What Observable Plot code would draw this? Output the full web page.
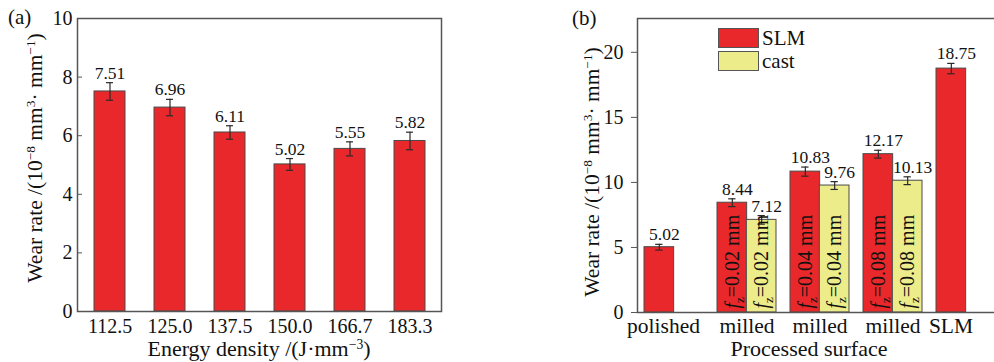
<!DOCTYPE html>
<html><head><meta charset="utf-8">
<script src="https://cdn.jsdelivr.net/npm/d3@7"></script>
<script src="https://cdn.jsdelivr.net/npm/@observablehq/plot@0.6"></script>
<style>
html,body{margin:0;padding:0;background:#fff;}
#wrap{position:relative;width:994px;height:362px;overflow:hidden;font-family:"Liberation Serif",serif;color:#111;}
.panel{position:absolute;top:0;}
.tag{position:absolute;font-size:21px;line-height:1;white-space:nowrap;}
.ytitle{position:absolute;font-size:21.5px;line-height:0.8;white-space:nowrap;transform:translate(-50%,-50%) rotate(-90deg);}
.xtitle{position:absolute;font-size:22px;line-height:0.6;white-space:nowrap;transform:translate(-50%,-50%);}
sup{font-size:0.62em;vertical-align:0.55em;line-height:0;}
.sw{position:absolute;width:39px;height:18px;border:1px solid #555;box-sizing:content-box;}
.lt{position:absolute;font-size:21px;line-height:1;white-space:nowrap;transform:translateY(-50%);}
</style></head><body><div id="wrap"></div>
<script>
// ---------- data ----------
const energy = ["112.5","125.0","137.5","150.0","166.7","183.3"];
const rateA  = [7.51, 6.96, 6.11, 5.02, 5.55, 5.82];
const errA   = [0.30, 0.28, 0.23, 0.20, 0.24, 0.30];
const yTicksA = [0, 2, 4, 6, 8, 10];

const surfaceKeys   = ["polished","milled1","milled2","milled3","SLM"];
const surfaceLabels = ["polished","milled","milled","milled","SLM"];
const feedLabels    = [null, "0.02", "0.04", "0.08", null];
const slmRate  = [5.02, 8.44, 10.83, 12.17, 18.75];
const slmErr   = [0.22, 0.30, 0.35, 0.30, 0.40];
const castRate = [null, 7.12, 9.76, 10.13, null];
const castErr  = [null, 0.33, 0.30, 0.30, null];
const seriesNames = ["SLM", "cast"];
const yTicksB = [0, 5, 10, 15, 20];

// ---------- style ----------
const RED = "#e8282a", YEL = "#ecec8a", EDGE = "#4a4a4a", FRAME = "#555", ERR = "#2a2a2a";
const FONT = "Liberation Serif, serif";
const wrap = document.getElementById("wrap");

// ---------- panel (a) ----------
const dataA = energy.map((e, i) => ({e, v: rateA[i], err: errA[i]}));
const A = {width: 460, height: 362, ml: 77, mr: 19, mt: 18, mb: 51, pi: 0.49, po: 0.245};
const stepA = (A.width - A.ml - A.mr) / (energy.length - A.pi + 2 * A.po);
const bwA = stepA * (1 - A.pi);
const capW = 7;
const plotA = Plot.plot({
  width: A.width, height: A.height,
  marginLeft: A.ml, marginRight: A.mr, marginTop: A.mt, marginBottom: A.mb,
  style: {fontFamily: FONT, fontSize: "20px", color: "#111", background: "transparent"},
  x: {domain: energy, paddingInner: A.pi, paddingOuter: A.po, label: null},
  y: {domain: [0, 10], label: null},
  marks: [
    Plot.barY(dataA, {x: "e", y: "v", fill: RED, stroke: EDGE, strokeWidth: 1}),
    Plot.ruleX(dataA, {x: "e", y1: d => d.v - d.err, y2: d => d.v + d.err, stroke: ERR, strokeWidth: 1.2}),
    Plot.tickY(dataA, {x: "e", y: d => d.v + d.err, stroke: ERR, strokeWidth: 1.2, insetLeft: (bwA - capW) / 2, insetRight: (bwA - capW) / 2}),
    Plot.tickY(dataA, {x: "e", y: d => d.v - d.err, stroke: ERR, strokeWidth: 1.2, insetLeft: (bwA - capW) / 2, insetRight: (bwA - capW) / 2}),
    Plot.text(dataA, {x: "e", y: d => d.v + d.err, text: d => d.v.toFixed(2), lineAnchor: "bottom", dy: -4, fontSize: 17.5, fill: "#111"}),
    Plot.axisY(yTicksA, {tickSize: -5, tickPadding: 10, label: null, fontSize: 20, stroke: FRAME}),
    Plot.axisX({tickSize: 0, tickPadding: 7, label: null, fontSize: 20}),
    Plot.frame({stroke: FRAME, strokeWidth: 1.5})
  ]
});
plotA.classList.add("panel");
plotA.style.left = "0px";
wrap.appendChild(plotA);

// ---------- panel (b) ----------
const B = {left: 540, width: 472, height: 362, ml: 97, mr: 10, mt: 18, mb: 50, pi: 0.197, po: 0.096};
const stepB = (B.width - B.ml - B.mr) / (surfaceKeys.length - B.pi + 2 * B.po);
const bwB = stepB * (1 - B.pi);
const half = bwB / 2;
const slmData = surfaceKeys.map((k, i) => ({k, s: seriesNames[0], v: slmRate[i], err: slmErr[i], feed: feedLabels[i]}));
const castData = surfaceKeys.map((k, i) => ({k, s: seriesNames[1], v: castRate[i], err: castErr[i], feed: feedLabels[i]})).filter(d => d.v != null);
const labelOf = k => surfaceLabels[surfaceKeys.indexOf(k)];
function seriesMarks(data, fill, side) {
  // side: -1 left half (SLM), +1 right half (cast)
  const off = side * half / 2;
  const inL = side < 0 ? 0 : half, inR = side < 0 ? half : 0;
  const capL = inL + (half - capW) / 2, capR = inR + (half - capW) / 2;
  return [
    Plot.barY(data, {x: "k", y: "v", fill, stroke: EDGE, strokeWidth: 1, insetLeft: inL, insetRight: inR}),
    Plot.ruleX(data, {x: "k", y1: d => d.v - d.err, y2: d => d.v + d.err, dx: off, stroke: ERR, strokeWidth: 1.2}),
    Plot.tickY(data, {x: "k", y: d => d.v + d.err, stroke: ERR, strokeWidth: 1.2, insetLeft: capL, insetRight: capR}),
    Plot.tickY(data, {x: "k", y: d => d.v - d.err, stroke: ERR, strokeWidth: 1.2, insetLeft: capL, insetRight: capR}),
    Plot.text(data, {x: "k", y: d => d.v + d.err, text: d => d.v.toFixed(2), dx: off + 5, lineAnchor: "bottom", dy: -4, fontSize: 17.5, fill: "#111"}),
    Plot.text(data.filter(d => d.feed), {x: "k", y: () => 0, text: "feed", dx: off, dy: -4, rotate: -90, textAnchor: "start", lineAnchor: "middle", fontSize: 20, fill: "#111", className: "fz"})
  ];
}
const plotB = Plot.plot({
  width: B.width, height: B.height,
  marginLeft: B.ml, marginRight: B.mr, marginTop: B.mt, marginBottom: B.mb,
  style: {fontFamily: FONT, fontSize: "20px", color: "#111", background: "transparent"},
  x: {domain: surfaceKeys, paddingInner: B.pi, paddingOuter: B.po, label: null},
  y: {domain: [0, 22.6], label: null},
  marks: [
    ...seriesMarks(slmData, RED, -1),
    ...seriesMarks(castData, YEL, 1),
    Plot.axisY(yTicksB, {tickSize: 6, tickPadding: 8, label: null, fontSize: 20, stroke: FRAME}),
    Plot.axisX(["milled1", "milled2", "milled3"], {tickSize: 0, tickPadding: 5, tickFormat: labelOf, label: null, fontSize: 21.5}),
    Plot.axisX(["polished"], {tickSize: 0, tickPadding: 5, tickFormat: labelOf, label: null, fontSize: 21.5, dx: -10.5}),
    Plot.axisX(["SLM"], {tickSize: 0, tickPadding: 5, tickFormat: labelOf, label: null, fontSize: 21.5, dx: -15}),
    Plot.frame({stroke: FRAME, strokeWidth: 1.5})
  ]
});
plotB.classList.add("panel");
plotB.style.left = B.left + "px";
wrap.appendChild(plotB);

// italic f with subscript z inside the rotated bar labels
plotB.querySelectorAll("g.fz text").forEach(t => {
  const v = t.textContent;
  t.innerHTML = `<tspan font-style="italic">f</tspan><tspan dy="5" font-size="13">z</tspan><tspan dy="-5">=${v} mm</tspan>`;
});

// ---------- titles, tags, legend ----------
function add(cls, html, css) {
  const d = document.createElement("div");
  d.className = cls; d.innerHTML = html; Object.assign(d.style, css); wrap.appendChild(d); return d;
}
add("tag", "(a)", {left: "8px", top: "7px"});
add("tag", "(b)", {left: "572px", top: "8px"});
const yTitle = "Wear rate /(10<sup>−8</sup> mm<sup>3</sup>· mm<sup>−1</sup>)";
add("ytitle", yTitle, {left: "36px", top: "158px"});
add("ytitle", yTitle, {left: "593px", top: "172px"});
add("xtitle", "Energy density /(J·mm<sup>−3</sup>)", {left: "259px", top: "349px"});
add("xtitle", "Processed surface", {left: "809px", top: "349px"});
add("sw", "", {left: "718px", top: "28px", background: RED});
add("sw", "", {left: "718px", top: "51px", background: YEL});
add("lt", seriesNames[0], {left: "762px", top: "38px"});
add("lt", seriesNames[1], {left: "762px", top: "61px"});
</script></body></html>
